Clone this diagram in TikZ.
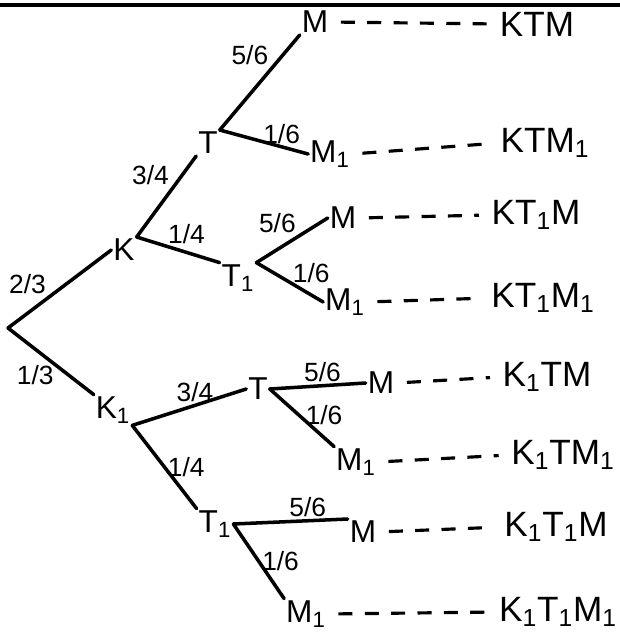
\documentclass[tikz,border=0pt]{standalone}
\usepackage{fontspec}
\setmainfont{Liberation Sans}
\usetikzlibrary{positioning}

\begin{document}
\begin{tikzpicture}[x=0.2mm, y=-0.2mm,
    every node/.style={inner sep=1pt},
    event/.style={font=\fontsize{18}{20}\selectfont},
    outcome/.style={font=\fontsize{20}{22}\selectfont},
    prob/.style={font=\fontsize{15}{16}\selectfont},
    branch/.style={line width=2pt, line cap=round},
    trail/.style={line width=1.8pt, dash pattern=on 8pt off 7pt,
                  shorten <=6pt, shorten >=6pt}]

  \useasboundingbox (0,0) rectangle (620,637);

  % rule along the top edge
  \draw[line width=1.8pt] (0,5) -- (620,5);

  % first stage: K or K1
  \coordinate (root) at (8,328);
  \node[event] (K)  at (124,250) {K};
  \node[event] (K1) at (113,410) {K\textsubscript{1}};
  \draw[branch] (root) -- node[prob,pos=.4,above left] {2/3} (K.west);
  \draw[branch] (root) -- node[prob,pos=.45,below left=2pt and -6pt] {1/3} (K1.north west);

  % second stage: T or T1
  \node[event] (T)   at (208,143) {T};
  \node[event] (T1)  at (238,278) {T\textsubscript{1}};
  \node[event] (Tl)  at (258,389) {T};
  \node[event] (T1l) at (215,524) {T\textsubscript{1}};
  \draw[branch] (K.north east) -- node[prob,pos=.6,above left] {3/4} (T.south west);
  \draw[branch] (K.north east) -- node[prob,pos=.6,above=3pt] {1/4} (T1.north west);
  \draw[branch] (K1.south east) -- node[prob,pos=.55,above] {3/4} (Tl.west);
  \draw[branch] (K1.south east) -- node[prob,pos=.5,right] {1/4} (T1l.north west);

  % third stage: M or M1
  \node[event] (leaf1) at (315,22)  {M};
  \node[event] (leaf2) at (330,154) {M\textsubscript{1}};
  \node[event] (leaf3) at (343,218) {M};
  \node[event] (leaf4) at (345,302) {M\textsubscript{1}};
  \node[event] (leaf5) at (381,383) {M};
  \node[event] (leaf6) at (356,462) {M\textsubscript{1}};
  \node[event] (leaf7) at (363,532) {M};
  \node[event] (leaf8) at (306,614) {M\textsubscript{1}};
  \draw[branch] (T.north east) -- node[prob,pos=.65,above left] {5/6} (leaf1.south west);
  \draw[branch] (T.north east) -- node[prob,pos=.7,above] {1/6} (leaf2.west);
  \draw[branch] (T1.north east) -- node[prob,pos=.6,above left] {5/6} (leaf3.west);
  \draw[branch] (T1.north east) -- node[prob,pos=.6,above right=0pt and -4pt] {1/6} (leaf4.west);
  \draw[branch] (Tl.east) -- node[prob,pos=.55,above] {5/6} (leaf5.west);
  \draw[branch] (Tl.east) -- node[prob,pos=.45,right=2pt] {1/6} (leaf6.north west);
  \draw[branch] (T1l.east) -- node[prob,pos=.65,above] {5/6} (leaf7.north west);
  \draw[branch] (T1l.east) -- node[prob,pos=.5,right] {1/6} (leaf8.north west);

  % outcomes
  \node[outcome] (out1) at (537,24)  {KTM};
  \node[outcome] (out2) at (545,143) {KTM\textsubscript{1}};
  \node[outcome] (out3) at (536,215) {KT\textsubscript{1}M};
  \node[outcome] (out4) at (543,298) {KT\textsubscript{1}M\textsubscript{1}};
  \node[outcome] (out5) at (547,377) {K\textsubscript{1}TM};
  \node[outcome] (out6) at (563,455) {K\textsubscript{1}TM\textsubscript{1}};
  \node[outcome] (out7) at (556,527) {K\textsubscript{1}T\textsubscript{1}M};
  \node[outcome] (out8) at (558,612) {K\textsubscript{1}T\textsubscript{1}M\textsubscript{1}};

  \foreach \i in {1,...,8}
    \draw[trail] (leaf\i.east) -- (out\i.west);

\end{tikzpicture}
\end{document}
